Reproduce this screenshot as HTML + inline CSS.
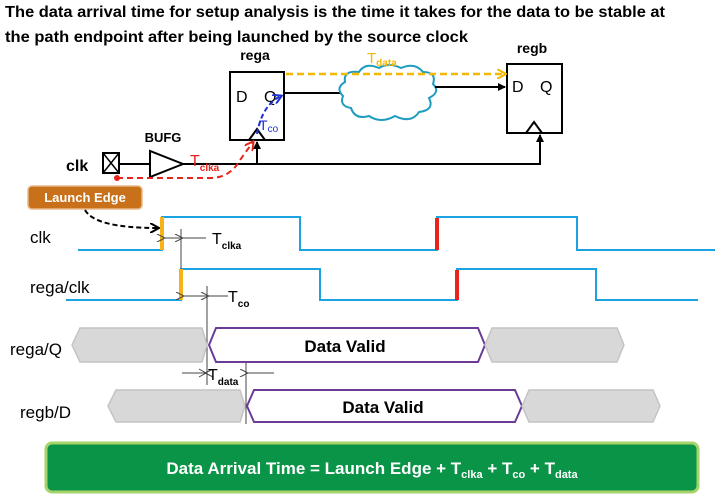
<!DOCTYPE html>
<html><head><meta charset="utf-8"><style>
body{margin:0;background:#fff;}
svg{display:block;font-family:"Liberation Sans",sans-serif;}
</style></head><body>
<svg width="716" height="504" viewBox="0 0 716 504" xmlns="http://www.w3.org/2000/svg">
<defs>
<marker id="ak" markerWidth="8" markerHeight="8" refX="7" refY="4" orient="auto" markerUnits="userSpaceOnUse"><path d="M0,0 L8,4 L0,8 z" fill="#000"/></marker>
<marker id="ay" markerWidth="10" markerHeight="10" refX="8" refY="5" orient="auto" markerUnits="userSpaceOnUse"><path d="M0,0 L9,5 L0,10" fill="none" stroke="#f5b800" stroke-width="2"/></marker>
<marker id="ar" markerWidth="10" markerHeight="10" refX="8" refY="5" orient="auto" markerUnits="userSpaceOnUse"><path d="M0,0 L9,5 L0,10" fill="none" stroke="#e8231a" stroke-width="2"/></marker>
<marker id="ab" markerWidth="10" markerHeight="10" refX="8" refY="5" orient="auto" markerUnits="userSpaceOnUse"><path d="M0,0 L9,5 L0,10" fill="none" stroke="#1f2fd0" stroke-width="2"/></marker>
<marker id="ad" markerWidth="10" markerHeight="10" refX="8" refY="5" orient="auto" markerUnits="userSpaceOnUse"><path d="M0,0 L9,5 L0,10" fill="none" stroke="#000" stroke-width="2"/></marker>
<marker id="ag" markerWidth="10" markerHeight="8" refX="1" refY="4" orient="auto" markerUnits="userSpaceOnUse"><path d="M9,0 L1,4 L9,8" fill="none" stroke="#444" stroke-width="1"/></marker>
</defs>
<!-- title -->
<text x="5" y="17" font-size="16" font-weight="bold" textLength="660" lengthAdjust="spacingAndGlyphs">The data arrival time for setup analysis is the time it takes for the data to be stable at</text>
<text x="5" y="42" font-size="16" font-weight="bold" textLength="463" lengthAdjust="spacingAndGlyphs">the path endpoint after being launched by the source clock</text>

<!-- rega -->
<text x="255" y="60" font-size="14" font-weight="bold" text-anchor="middle">rega</text>
<rect x="230" y="72" width="54" height="68" fill="#fff" stroke="#000" stroke-width="2"/>
<text x="236" y="102" font-size="16">D</text><text x="264" y="102" font-size="16">Q</text>
<path d="M249,140 L257,129 L265,140" fill="none" stroke="#000" stroke-width="2"/>
<!-- regb -->
<text x="532" y="53" font-size="14" font-weight="bold" text-anchor="middle">regb</text>
<rect x="507" y="64" width="55" height="69" fill="#fff" stroke="#000" stroke-width="2"/>
<text x="512" y="92" font-size="16">D</text><text x="540" y="92" font-size="16">Q</text>
<path d="M526,133 L534,122 L542,133" fill="none" stroke="#000" stroke-width="2"/>

<!-- Q to cloud -->
<line x1="284" y1="93" x2="342" y2="93" stroke="#000" stroke-width="2"/>
<path d="M345,82 q-2,-12 14,-10 q6,-10 20,-4 q10,-6 22,0 q14,-6 22,4 q14,0 10,12 q8,8 -4,14 q6,12 -10,14 q-8,12 -24,4 q-14,8 -26,0 q-14,4 -18,-8 q-12,-2 -8,-12 q-8,-8 2,-14 z" fill="#fff" stroke="#1e9cc0" stroke-width="2"/>
<line x1="435" y1="87" x2="505" y2="87" stroke="#000" stroke-width="2" marker-end="url(#ak)"/>
<line x1="286" y1="74" x2="505" y2="74" stroke="#f5b800" stroke-width="2.5" stroke-dasharray="7,4" marker-end="url(#ay)"/>
<text x="367" y="63" font-size="15" fill="#f5b800">T<tspan font-size="10" dy="3" font-weight="bold">data</tspan></text>

<!-- clk path -->
<text x="66" y="171" font-size="16" font-weight="bold">clk</text>
<rect x="103" y="153" width="16" height="20" fill="#fff" stroke="#000" stroke-width="2"/>
<path d="M103,153 L119,173 M119,153 L103,173" stroke="#000" stroke-width="1.5"/>
<line x1="119" y1="164" x2="150" y2="164" stroke="#000" stroke-width="2"/>
<path d="M150,151 L150,177 L183,164 z" fill="#fff" stroke="#000" stroke-width="2"/>
<text x="163" y="142" font-size="13" font-weight="bold" text-anchor="middle">BUFG</text>
<path d="M183,164 L540,164 L540,135" fill="none" stroke="#000" stroke-width="2" marker-end="url(#ak)"/>
<line x1="257" y1="164" x2="257" y2="142" stroke="#000" stroke-width="2" marker-end="url(#ak)"/>
<circle cx="117" cy="178" r="3" fill="#e8231a"/>
<path d="M117,178 L210,178 Q230,178 240,160 L253,142" fill="none" stroke="#e8231a" stroke-width="2" stroke-dasharray="6,4" marker-end="url(#ar)"/>
<text x="190" y="166" font-size="16" fill="#e8231a">T<tspan font-size="10" font-weight="bold" dy="5">clka</tspan></text>
<path d="M257,134 Q262,105 281,96" fill="none" stroke="#1f2fd0" stroke-width="2" stroke-dasharray="5,3" marker-end="url(#ab)"/>
<text x="259" y="130" font-size="14" fill="#1f2fd0">T<tspan font-size="10" dy="2">co</tspan></text>

<!-- launch edge -->
<rect x="28" y="186" width="114" height="23" rx="4" fill="#c8711a" stroke="#e8b888" stroke-width="1.5"/>
<text x="85" y="202" font-size="13" font-weight="bold" fill="#fff" text-anchor="middle">Launch Edge</text>
<path d="M85,210 Q95,228 158,228" fill="none" stroke="#000" stroke-width="2" stroke-dasharray="5,3" marker-end="url(#ad)"/>

<!-- waveforms labels -->
<text x="30" y="243" font-size="17">clk</text>
<text x="30" y="293" font-size="17">rega/clk</text>
<text x="10" y="355" font-size="17">rega/Q</text>
<text x="20" y="418" font-size="17">regb/D</text>

<path d="M78,250 L162,250 L162,217 L300,217 L300,250 L437,250 L437,217 L577,217 L577,250 L715,250" fill="none" stroke="#1aa3e0" stroke-width="2"/>
<path d="M66,300 L181,300 L181,269 L320,269 L320,300 L457,300 L457,269 L596,269 L596,300 L698,300" fill="none" stroke="#1aa3e0" stroke-width="2"/>
<line x1="162" y1="217" x2="162" y2="250" stroke="#f7b21a" stroke-width="4"/>
<line x1="181" y1="269" x2="181" y2="300" stroke="#f7b21a" stroke-width="4"/>
<line x1="437" y1="218" x2="437" y2="250" stroke="#e8231a" stroke-width="4"/>
<line x1="457" y1="270" x2="457" y2="300" stroke="#e8231a" stroke-width="4"/>

<!-- timing markers -->
<line x1="181" y1="229" x2="181" y2="269" stroke="#444" stroke-width="1"/>
<line x1="181" y1="238" x2="165" y2="238" stroke="#444" stroke-width="1" marker-end="url(#ag)"/>
<line x1="206" y1="238" x2="183" y2="238" stroke="#444" stroke-width="1" marker-end="url(#ag)"/>
<text x="212" y="244" font-size="16">T<tspan font-size="10" font-weight="bold" dy="5">clka</tspan></text>
<line x1="207" y1="286" x2="207" y2="385" stroke="#444" stroke-width="1"/>
<line x1="207" y1="296" x2="184" y2="296" stroke="#444" stroke-width="1" marker-end="url(#ag)"/>
<line x1="228" y1="296" x2="209" y2="296" stroke="#444" stroke-width="1" marker-end="url(#ag)"/>
<text x="228" y="302" font-size="16">T<tspan font-size="10" font-weight="bold" dy="5">co</tspan></text>
<line x1="246" y1="362" x2="246" y2="424" stroke="#444" stroke-width="1"/>
<line x1="182" y1="373" x2="205" y2="373" stroke="#444" stroke-width="1" marker-end="url(#ag)" transform=""/>
<path d="M199,369 L206,373 L199,377" fill="none" stroke="#444" stroke-width="1"/>
<line x1="274" y1="373" x2="248" y2="373" stroke="#444" stroke-width="1" marker-end="url(#ag)"/>
<text x="208" y="380" font-size="16">T<tspan font-size="10" font-weight="bold" dy="5">data</tspan></text>

<!-- data buses -->
<path d="M80,328 L202,328 L207,345 L202,362 L80,362 L72,345 z" fill="#d8d8d8" stroke="#c4c4c4" stroke-width="1.5"/>
<path d="M216,328 L478,328 L485,345 L478,362 L216,362 L209,345 z" fill="#fff" stroke="#6a3c98" stroke-width="2"/>
<text x="345" y="352" font-size="17" font-weight="bold" text-anchor="middle">Data Valid</text>
<path d="M492,328 L617,328 L624,345 L617,362 L492,362 L485,345 z" fill="#d8d8d8" stroke="#c4c4c4" stroke-width="1.5"/>

<path d="M116,390 L240,390 L245,406 L240,422 L116,422 L108,406 z" fill="#d8d8d8" stroke="#c4c4c4" stroke-width="1.5"/>
<path d="M254,390 L515,390 L522,406 L515,422 L254,422 L247,406 z" fill="#fff" stroke="#6a3c98" stroke-width="2"/>
<text x="383" y="413" font-size="17" font-weight="bold" text-anchor="middle">Data Valid</text>
<path d="M529,390 L653,390 L660,406 L653,422 L529,422 L522,406 z" fill="#d8d8d8" stroke="#c4c4c4" stroke-width="1.5"/>

<!-- green box -->
<rect x="46" y="443" width="652" height="49" rx="6" fill="#099447" stroke="#a6d36a" stroke-width="3"/>
<text x="372" y="474" font-size="17" font-weight="bold" fill="#fff" text-anchor="middle">Data Arrival Time = Launch Edge + T<tspan font-size="11" dy="4">clka</tspan><tspan dy="-4"> + T</tspan><tspan font-size="11" dy="4">co</tspan><tspan dy="-4"> + T</tspan><tspan font-size="11" dy="4">data</tspan></text>
</svg>
</body></html>
